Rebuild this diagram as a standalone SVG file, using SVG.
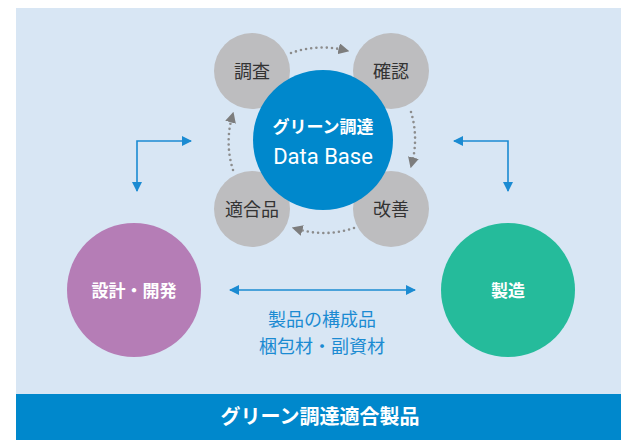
<svg xmlns="http://www.w3.org/2000/svg" width="621" height="440" viewBox="0 0 621 440">
<style>
.jp{font-family:"Noto Sans CJK JP","Noto Sans",sans-serif}
.gray{fill:#bdbdbf}
.gt{font-size:18px;fill:#333;text-anchor:middle}
.wt{fill:#fff;text-anchor:middle;font-weight:bold}
.dot{fill:none;stroke:#8c8c8c;stroke-width:2.6;stroke-linecap:round;stroke-dasharray:0 5.2}
.bl{fill:none;stroke:#1b8bd2;stroke-width:1.6}
</style>
<defs>
<marker id="ga" viewBox="0 0 10 10" refX="5" refY="5" markerWidth="11" markerHeight="11" markerUnits="userSpaceOnUse" orient="auto"><path d="M0,0 L10,5 L0,10 Z" fill="#7d7d7d"/></marker>
<marker id="ba" viewBox="0 0 10 10" refX="9" refY="5" markerWidth="10" markerHeight="11" markerUnits="userSpaceOnUse" orient="auto-start-reverse"><path d="M0,0 L10,5 L0,10 Z" fill="#1b8bd2"/></marker>
</defs>
<rect x="16" y="8" width="605" height="386" fill="#d8e6f4"/>
<rect x="16" y="394" width="605" height="46" fill="#0088cc"/>
<text class="jp wt" x="320" y="424" font-size="20">グリーン調達適合製品</text>
<g id="connectors">
<path class="dot" d="M 291 53 A 93 93 0 0 1 344 50" marker-end="url(#ga)"/>
<path class="dot" d="M 411 112 A 93 93 0 0 1 412 163" marker-end="url(#ga)"/>
<path class="dot" d="M 354 228 A 93 93 0 0 1 297 229" marker-end="url(#ga)"/>
<path class="dot" d="M 233 170 A 93 93 0 0 1 232 117" marker-end="url(#ga)"/>
<path class="bl" d="M 137 191 V 141 H 191" marker-start="url(#ba)" marker-end="url(#ba)"/>
<path class="bl" d="M 508 191 V 141 H 454" marker-start="url(#ba)" marker-end="url(#ba)"/>
<path class="bl" d="M 230 290 H 415" marker-start="url(#ba)" marker-end="url(#ba)"/>
</g>
<g id="chousa"><circle class="gray" cx="252" cy="71" r="38"/><text class="jp gt" x="252" y="78">調査</text></g>
<g id="kakunin"><circle class="gray" cx="391" cy="71" r="38"/><text class="jp gt" x="391" y="78">確認</text></g>
<g id="tekigou"><circle class="gray" cx="252" cy="209" r="38"/><text class="jp gt" x="252" y="216">適合品</text></g>
<g id="kaizen"><circle class="gray" cx="391" cy="209" r="38"/><text class="jp gt" x="391" y="216">改善</text></g>
<g id="db"><circle cx="323" cy="140" r="70" fill="#0088cc"/>
<text class="jp wt" x="323" y="133" font-size="17">グリーン調達</text>
<text x="323" y="164" font-size="22" fill="#fff" text-anchor="middle" font-family="Roboto,'Liberation Sans',sans-serif">Data Base</text></g>
<g id="design"><circle cx="134" cy="290" r="67" fill="#b57db6"/><text class="jp wt" x="134" y="297" font-size="17">設計・開発</text></g>
<g id="mfg"><circle cx="508" cy="290" r="67" fill="#25bb9b"/><text class="jp wt" x="508" y="297" font-size="17">製造</text></g>
<g id="label"><text class="jp" x="322" y="326" font-size="18" fill="#1b8bd2" text-anchor="middle">製品の構成品</text>
<text class="jp" x="322" y="353" font-size="18" fill="#1b8bd2" text-anchor="middle">梱包材・副資材</text></g>
</svg>
